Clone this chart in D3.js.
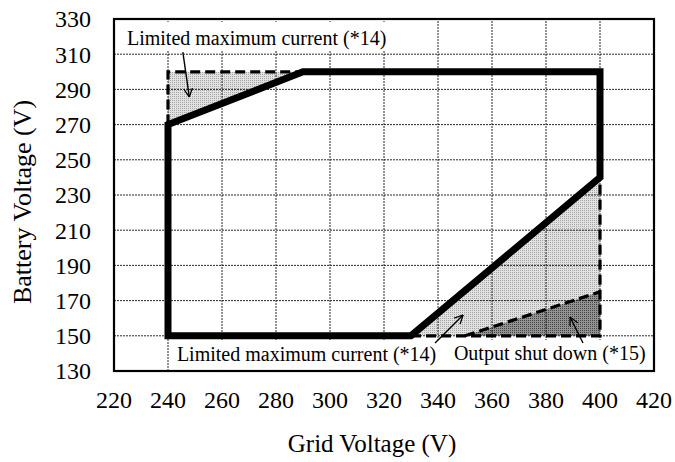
<!DOCTYPE html>
<html><head><meta charset="utf-8">
<script src="https://cdn.jsdelivr.net/npm/d3@7"></script>
<style>body{margin:0;background:#fff} text{font-family:"Liberation Serif","Times New Roman",serif;fill:#000}</style>
</head><body><svg id="c" width="675" height="462"></svg>
<script>
// ---- data ----
const xTicks = [220, 240, 260, 280, 300, 320, 340, 360, 380, 400, 420];
const yTicks = [130, 150, 170, 190, 210, 230, 250, 270, 290, 310, 330];
const operatingRegion = [[240,150],[240,270],[290,300],[400,300],[400,240],[330,150]];
const limitedTopArea = [[240,270],[240,300],[290,300]];
const limitedBottomArea = [[330,150],[400,240],[400,150]];
const shutDownArea = [[350,150],[400,175],[400,150]];
const dashTop = [[240,270],[240,300],[290,300]];
const dashBottom = [[330,150],[400,150],[400,240]];
const dashShut = [[350,150],[400,175]];
const annotations = [
  {text: "Limited maximum current (*14)", x: 224.8, y: 315.2},
  {text: "Limited maximum current (*14)", x: 243.3, y: 135.6},
  {text: "Output shut down (*15)", x: 345.9, y: 136.0}
];
const arrows = [
  {from: [245.5, 311.2], to: [247.9, 285.6]},
  {from: [338.9, 145.9], to: [349.3, 161.8]},
  {from: [393.7, 145.9], to: [388.9, 160.7]}
];
const labelBoxes = [
  {x0: 222.2, x1: 321.5, y0: 328.3, y1: 311.8},
  {x0: 241.5, x1: 418.5, y0: 147.6, y1: 130.6}
];
const xTitle = "Grid Voltage (V)";
const yTitle = "Battery Voltage (V)";

// ---- chart ----
const W = 675, H = 462;
const m = {l: 114, r: 21, t: 19, b: 91};
const svg = d3.select("#c");
const x = d3.scaleLinear().domain([220, 420]).range([m.l, W - m.r]);
const y = d3.scaleLinear().domain([130, 330]).range([H - m.b, m.t]);
const line = d3.line().x(d => x(d[0])).y(d => y(d[1]));

const defs = svg.append("defs");
const pl = defs.append("pattern").attr("id","pLight").attr("patternUnits","userSpaceOnUse").attr("width",2).attr("height",2);
pl.append("rect").attr("width",2).attr("height",2).attr("fill","#e2e2e2");
pl.append("rect").attr("width",1).attr("height",1).attr("fill","#a4a4a4");
const pd = defs.append("pattern").attr("id","pDark").attr("patternUnits","userSpaceOnUse").attr("width",2).attr("height",2);
pd.append("rect").attr("width",2).attr("height",2).attr("fill","#939393");
pd.append("rect").attr("width",1).attr("height",1).attr("fill","#444444");
defs.append("marker").attr("id","arr").attr("viewBox","0 0 10 10").attr("refX",10).attr("refY",5)
  .attr("markerWidth",9).attr("markerHeight",9).attr("markerUnits","userSpaceOnUse").attr("orient","auto")
  .append("path").attr("d","M0,0 L10,5 L0,10").attr("fill","none").attr("stroke","#000").attr("stroke-width",1.4);

svg.append("rect").attr("width",W).attr("height",H).attr("fill","#fff");

// fills
svg.append("path").attr("d", line(limitedTopArea) + "Z").attr("fill","url(#pLight)");
svg.append("path").attr("d", line(limitedBottomArea) + "Z").attr("fill","url(#pLight)");
svg.append("path").attr("d", line(shutDownArea) + "Z").attr("fill","url(#pDark)");

// grid
const g = svg.append("g").attr("stroke","#111").attr("stroke-width",0.9).attr("stroke-dasharray","2,1");
g.selectAll("line.v").data(xTicks).join("line").attr("x1",d=>x(d)).attr("x2",d=>x(d)).attr("y1",y(130)).attr("y2",y(330));
g.selectAll("line.h").data(yTicks).join("line").attr("y1",d=>y(d)).attr("y2",d=>y(d)).attr("x1",x(220)).attr("x2",x(420));

// label boxes (over grid)
svg.selectAll("rect.lb").data(labelBoxes).join("rect")
  .attr("x", d => x(d.x0)).attr("y", d => y(d.y0))
  .attr("width", d => x(d.x1) - x(d.x0)).attr("height", d => y(d.y1) - y(d.y0))
  .attr("fill","#fff");

// dashed boundaries
[dashTop, dashBottom, dashShut].forEach(d => {
  svg.append("path").attr("d", line(d)).attr("fill","none").attr("stroke","#000")
    .attr("stroke-width",3.2).attr("stroke-dasharray","10,5");
});

// operating region
svg.append("path").attr("d", line(operatingRegion) + "Z").attr("fill","none")
  .attr("stroke","#000").attr("stroke-width",7).attr("stroke-linejoin","miter");

// frame
svg.append("rect").attr("x",x(220)).attr("y",y(330)).attr("width",x(420)-x(220)).attr("height",y(130)-y(330))
  .attr("fill","none").attr("stroke","#000").attr("stroke-width",2.2);

// annotations
svg.selectAll("text.ann").data(annotations).join("text")
  .attr("x", d => x(d.x)).attr("y", d => y(d.y)).attr("font-size",20).text(d => d.text);
svg.selectAll("line.arr").data(arrows).join("line")
  .attr("x1", d => x(d.from[0])).attr("y1", d => y(d.from[1]))
  .attr("x2", d => x(d.to[0])).attr("y2", d => y(d.to[1]))
  .attr("stroke","#000").attr("stroke-width",1.4).attr("marker-end","url(#arr)");

// axes labels
svg.selectAll("text.xt").data(xTicks).join("text")
  .attr("x", d => x(d)).attr("y", 408).attr("text-anchor","middle").attr("font-size",24).text(d => d);
svg.selectAll("text.yt").data(yTicks).join("text")
  .attr("x", 91).attr("y", d => y(d)).attr("dy","0.35em").attr("text-anchor","end").attr("font-size",24).text(d => d);

svg.append("text").attr("x",372).attr("y",452).attr("text-anchor","middle").attr("font-size",25).text(xTitle);
svg.append("text").attr("transform","translate(31,202) rotate(-90)").attr("text-anchor","middle").attr("font-size",26).text(yTitle);
</script></body></html>
